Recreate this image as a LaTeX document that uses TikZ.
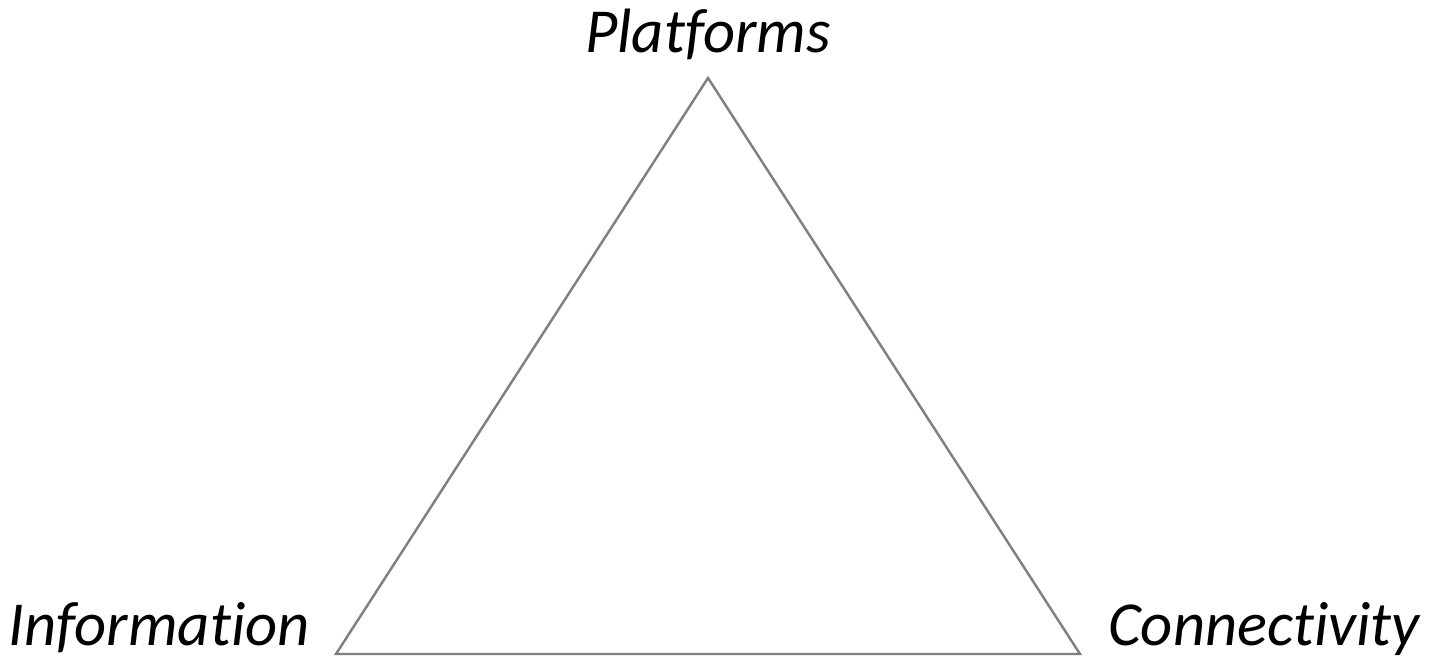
\documentclass[tikz,border=0pt]{standalone}
\usepackage{fontspec}
\setmainfont{Carlito}[Ligatures=CommonOff]
\usetikzlibrary{positioning}

\begin{document}
\begin{tikzpicture}[x=0.01cm,y=-0.01cm,line width=0.7pt,inner sep=0pt,
    corner label/.style={font=\fontsize{17.8}{21}\selectfont\itshape}]
    \useasboundingbox (0,0) rectangle (1429,666);
    \coordinate (top) at (708,78);
    \coordinate (left) at (336,654);
    \coordinate (right) at (1080,654);
    \draw[gray] (top) -- (left) -- (right) -- cycle;
    \node[corner label,anchor=base] (platforms) at (708,52) {Platforms};
    \node[corner label,anchor=base east] (information) at (311,645) {Information};
    \node[corner label,anchor=base west] (connectivity) at (1107,645) {Connectivity};
\end{tikzpicture}
\end{document}
